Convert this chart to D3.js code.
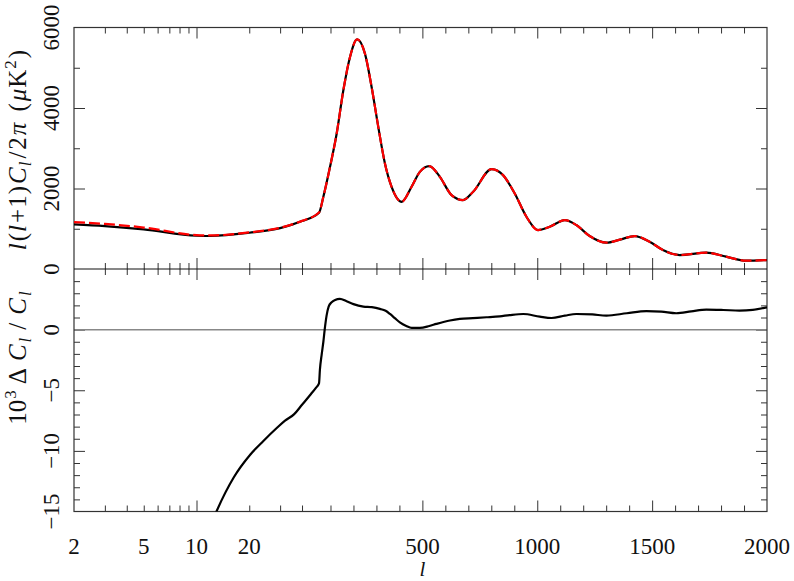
<!DOCTYPE html>
<html>
<head>
<meta charset="utf-8">
<script src="https://cdn.jsdelivr.net/npm/d3@7"></script>
<style>
  body { margin: 0; background: #fff; }
  text { font-family: "Liberation Serif", "DejaVu Serif", serif; fill: #111; }
</style>
</head>
<body>
<div id="chart"></div>
<script>
// multipoles and l(l+1)C_l/2pi (muK^2) for the two spectra
const ellTop = [2, 3, 5, 10, 12, 20, 30, 40, 50, 69, 98, 127, 156, 185, 216, 250, 279, 308, 337, 366, 410,
  453, 489, 530, 576, 627, 677, 721, 801, 851, 902, 953, 1003, 1054, 1120, 1170, 1228, 1301, 1360,
  1424, 1489, 1547, 1620, 1736, 1822, 1909, 2000];
const powerBlack = [1109, 1067, 984, 826, 820, 900, 1017, 1190, 1396, 1794, 2538, 3367, 4441, 5268, 5703, 5350, 4523, 3531, 2623, 2042, 1670,
  2042, 2414, 2556, 2290, 1836, 1712, 1918, 2480, 2332, 1877, 1298, 968, 1050, 1216, 1092, 819, 653, 730,
  819, 678, 471, 347, 405, 306, 206, 223];
const powerRed = [1166, 1120, 1030, 842, 834, 909, 1025, 1196, 1402, 1794, 2538, 3367, 4441, 5268, 5703, 5350, 4523, 3531, 2623, 2042, 1670,
  2042, 2414, 2556, 2290, 1836, 1712, 1918, 2480, 2332, 1877, 1298, 968, 1050, 1216, 1092, 819, 653, 730,
  819, 678, 471, 347, 405, 306, 206, 223];

// relative difference 10^3 dC_l/C_l
const ellRes = [12, 13, 16.3, 20.3, 24, 28.9, 32, 36.1, 40, 45, 48, 50, 54, 62, 69, 76, 83, 92, 105, 120, 141, 170,
  200, 243, 280, 315, 340, 359, 380, 402, 430, 453, 489, 530, 561, 620, 663, 720, 779, 837, 880, 939,
  1011, 1062, 1120, 1170, 1240, 1301, 1390, 1475, 1540, 1605, 1670, 1736, 1810, 1880, 1938, 2000];
const resid = [-16.2, -15.0, -12.2, -10.3, -9.2, -8.07, -7.5, -6.97, -6.2, -5.31, -4.8, -4.44, -3.3, -2.0, -1.0, 0.2, 1.16, 1.9, 2.26, 2.45, 2.54, 2.34,
  2.1, 1.9, 1.85, 1.71, 1.55, 1.29, 0.95, 0.6, 0.3, 0.14, 0.14, 0.3, 0.47, 0.75, 0.88, 0.95, 1.02, 1.1, 1.2, 1.29,
  1.07, 0.96, 1.15, 1.29, 1.25, 1.16, 1.35, 1.52, 1.48, 1.35, 1.5, 1.65, 1.62, 1.57, 1.63, 1.84];

// ticks
const xLabels = [2, 5, 10, 20, 500, 1000, 1500, 2000];
const xMinorLog = [3, 4, 5, 6, 7, 8, 9, 20, 30, 40];
const xMajorLog = [10];
const xMinorLin = [100, 200, 300, 400, 600, 700, 800, 900, 1100, 1200, 1300, 1400, 1600, 1700, 1800, 1900];
const xMajorLin = [500, 1000, 1500];
const yTopMajor = [2000, 4000];
const yTopMinor = [1000, 3000, 5000];
const yTopLabels = [0, 2000, 4000, 6000];
const yBotMajor = [-10, -5, 0];
const yBotMinor = [-14, -13, -12, -11, -9, -8, -7, -6, -4, -3, -2, -1, 1, 2, 3, 4];
const yBotLabels = [0, -5, -10, -15];

const W = 794, H = 581;
const L = 74, R = 767, T = 27.5, MID = 269, B = 511.5;

// hybrid axis: log up to l=50, linear above
const xLog = d3.scaleLog().domain([2, 50]).range([L, 319]);
const xLin = d3.scaleLinear().domain([50, 2000]).range([319, R]);
const x = l => l <= 50 ? xLog(l) : xLin(l);
const yTop = d3.scaleLinear().domain([0, 6000]).range([MID, T]);
const yBot = d3.scaleLinear().domain([-15, 5]).range([B, MID]);

const svg = d3.select('#chart').append('svg')
    .attr('width', W)
    .attr('height', H);

const defs = svg.append('defs');
defs.append('clipPath').attr('id', 'clipTop')
  .append('rect').attr('x', L).attr('y', T).attr('width', R - L).attr('height', MID - T);
defs.append('clipPath').attr('id', 'clipBot')
  .append('rect').attr('x', L).attr('y', MID).attr('width', R - L).attr('height', B - MID);

const tickColor = '#333';

function xTicks(yPos, side, values, scale, len) {
    const ax = side === 'bottom' ? d3.axisBottom(scale) : d3.axisTop(scale);
    svg.append('g')
        .attr('transform', `translate(0,${yPos})`)
        .call(ax.tickValues(values).tickSize(-len).tickFormat(''))
        .call(g => g.select('.domain').remove())
        .selectAll('line').attr('stroke', tickColor);
}

function yTicks(xPos, side, values, scale, len) {
    const ax = side === 'left' ? d3.axisLeft(scale) : d3.axisRight(scale);
    svg.append('g')
        .attr('transform', `translate(${xPos},0)`)
        .call(ax.tickValues(values).tickSize(-len).tickFormat(''))
        .call(g => g.select('.domain').remove())
        .selectAll('line').attr('stroke', tickColor);
}

// x ticks on every horizontal edge, pointing inward
[[T, 'top'], [MID, 'bottom'], [MID, 'top'], [B, 'bottom']].forEach(([yy, side]) => {
    xTicks(yy, side, xMinorLog, xLog, 6);
    xTicks(yy, side, xMajorLog, xLog, 11);
    xTicks(yy, side, xMinorLin, xLin, 6);
    xTicks(yy, side, xMajorLin, xLin, 11);
});

// y ticks both sides
[[L, 'left'], [R, 'right']].forEach(([xx, side]) => {
    yTicks(xx, side, yTopMinor, yTop, 6);
    yTicks(xx, side, yTopMajor, yTop, 11);
    yTicks(xx, side, yBotMinor, yBot, 6);
    yTicks(xx, side, yBotMajor, yBot, 11);
});

// zero line in residual panel
svg.append('line')
    .attr('x1', L).attr('x2', R)
    .attr('y1', yBot(0)).attr('y2', yBot(0))
    .attr('stroke', '#888')
    .attr('stroke-width', 1.5);

// frames
svg.append('rect')
    .attr('x', L).attr('y', T).attr('width', R - L).attr('height', B - T)
    .attr('fill', 'none').attr('stroke', tickColor).attr('stroke-width', 1.2);
svg.append('line')
    .attr('x1', L).attr('x2', R).attr('y1', MID).attr('y2', MID)
    .attr('stroke', '#111').attr('stroke-width', 1.2);

// curves
const lineTop = (vals) => d3.line()
    .x((d, i) => x(ellTop[i]))
    .y(d => yTop(d))
    .curve(d3.curveMonotoneX)(vals);

svg.append('path')
    .attr('clip-path', 'url(#clipTop)')
    .attr('d', lineTop(powerBlack))
    .attr('fill', 'none')
    .attr('stroke', '#000')
    .attr('stroke-width', 2.2);

svg.append('path')
    .attr('clip-path', 'url(#clipTop)')
    .attr('d', lineTop(powerRed))
    .attr('fill', 'none')
    .attr('stroke', '#ff0000')
    .attr('stroke-width', 2.2)
    .attr('stroke-dasharray', '11,4');

svg.append('path')
    .attr('clip-path', 'url(#clipBot)')
    .attr('d', d3.line()
        .x((d, i) => x(ellRes[i]))
        .y(d => yBot(d))
        .curve(d3.curveMonotoneX)(resid))
    .attr('fill', 'none')
    .attr('stroke', '#000')
    .attr('stroke-width', 2.2);

// tick labels
const fs = 23;
svg.selectAll('text.xl')
    .data(xLabels)
    .enter()
    .append('text')
    .attr('class', 'xl')
    .attr('x', d => x(d))
    .attr('y', 554)
    .attr('text-anchor', 'middle')
    .style('font-size', fs + 'px')
    .text(d => d);

function yLabels(vals, scale) {
    svg.append('g').selectAll('text')
        .data(vals)
        .enter()
        .append('text')
        .attr('transform', d => `translate(59,${scale(d)}) rotate(-90)`)
        .attr('text-anchor', 'middle')
        .style('font-size', fs + 'px')
        .text(d => d < 0 ? '\u2212' + Math.abs(d) : d);
}
yLabels(yTopLabels, yTop);
yLabels(yBotLabels, yBot);

// axis titles built from pieces: [text, italic, shift, gap before]
function mathTitle(g, parts, size) {
    const t = g.append('text')
        .attr('text-anchor', 'middle')
        .style('font-size', size + 'px');
    let cur = 0;
    parts.forEach(([s, it, shift, gap]) => {
        t.append('tspan')
            .attr('dx', (gap || 0) + 'px')
            .attr('dy', (shift - cur) + 'px')
            .style('font-style', it ? 'italic' : 'normal')
            .style('font-size', shift !== 0 ? (size * 0.68) + 'px' : size + 'px')
            .text(s);
        cur = shift;
    });
    return t;
}

const g1 = svg.append('g').attr('transform', 'translate(26,150) rotate(-90)');
mathTitle(g1, [
    ['l', true, 0], ['(', false, 0, 2], ['l', true, 0, 1], ['+', false, 0, 2], ['1', false, 0, 1], [')', false, 0, 1],
    ['C', true, 0, 2], ['l', true, 5, 1], ['/', false, 0, 3], ['2', false, 0, 2], ['\u03c0', true, 0, 2],
    ['(', false, 0, 11], ['\u03bc', true, 0, 2], ['K', false, 0, 1], ['2', false, -10, 1], [')', false, 0, 2]
], 25);

const g2 = svg.append('g').attr('transform', 'translate(26,358) rotate(-90)');
mathTitle(g2, [
    ['10', false, 0], ['3', false, -10, 1], ['\u0394', false, 0, 6], ['C', true, 0, 7], ['l', true, 5, 2],
    ['/', false, 0, 8], ['C', true, 0, 8], ['l', true, 5, 2]
], 25);

svg.append('text')
    .attr('x', x(500))
    .attr('y', 576)
    .attr('text-anchor', 'middle')
    .style('font-size', '21px')
    .style('font-style', 'italic')
    .text('l');
</script>
</body>
</html>
